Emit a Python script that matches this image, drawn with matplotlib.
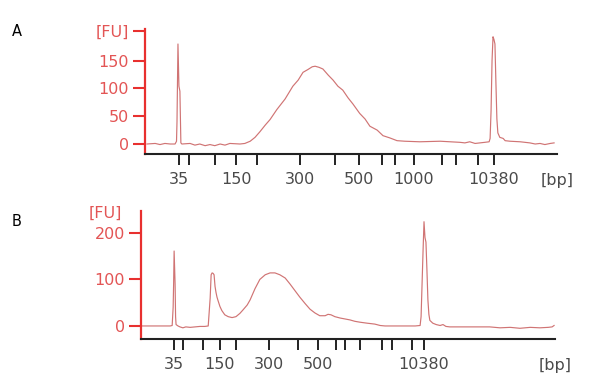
#Bioanalyzer electropherograms, panels A and B
import matplotlib
matplotlib.use('Agg')
import matplotlib.pyplot as plt

# ladder migration times (s) and the sizes labelled under them
ladder_bp = [35, 50, 100, 150, 200, 300, 400, 500, 600, 700, 1000, 2000, 3000, 7000, 10380]
ladder_t_a = [47.0, 49.1, 54.4, 58.8, 63.1, 72.0, 79.2, 84.1, 88.9, 91.6, 95.5, 101.3, 104.2, 108.7, 112.0]
ladder_t_b = [46.8, 48.6, 52.7, 56.2, 59.5, 66.3, 72.2, 76.3, 80.0, 81.9, 85.0, 89.5, 91.5, 95.6, 98.1]
shown_a = [35, 150, 300, 500, 1000, 10380]
shown_b = [35, 150, 300, 500, 10380]

# trace A: time (s), fluorescence (FU)
t_a = [40.4, 42.1, 43.1, 44.1, 45.2, 46.2, 46.5, 46.6, 46.8, 47.0, 47.2, 47.4, 47.6,
       49.3, 50.3, 51.3, 52.4, 53.4, 54.4, 55.5, 56.5, 57.5, 59.6, 60.6, 61.7, 62.7,
       63.7, 64.8, 65.8, 67.2, 68.9, 70.5, 71.6, 72.6, 73.6, 74.5, 75.1, 75.9, 76.7,
       77.8, 78.8, 79.8, 80.8, 81.9, 82.9, 84.3, 85.4, 86.4, 87.9, 89.1, 90.5, 92.0,
       93.6, 96.7, 100.9, 105.0, 106.0, 107.0, 108.1, 109.1, 110.1, 111.0, 111.2, 111.4,
       111.6, 111.8, 112.0, 112.2, 112.4, 112.6, 112.8, 113.2, 113.9, 114.3, 115.3,
       117.4, 119.4, 120.5, 121.5, 122.5, 123.6, 124.4]
fu_a = [0, 1, -1, 1, 0, 0, 5, 40, 180, 104, 95, 2, 0,
        1, -2, 0, -3, -1, -3, 0, -2, 1, 0, 1, 5, 12,
        22, 34, 44, 62, 81, 104, 115, 129, 134, 139, 140, 138, 135,
        124, 115, 104, 97, 83, 72, 55, 45, 32, 25, 15, 11, 6,
        5, 4, 5, 3, 2, 4, 1, 2, 3, 4, 10, 60,
        150, 193, 188, 180, 110, 45, 20, 12, 10, 6, 5,
        4, 2, 0, 1, -1, 1, 2]

# trace B
t_b = [40.2, 41.8, 43.9, 46.0, 46.4, 46.6, 46.7, 46.8, 47.0, 47.1, 47.2, 47.6, 48.0,
       48.6, 49.2, 50.1, 51.1, 52.1, 53.1, 53.8, 54.0, 54.2, 54.4, 54.6, 54.8, 55.0,
       55.2, 55.4, 55.6, 55.8, 56.2, 56.6, 57.2, 57.9, 58.7, 59.5, 60.3, 60.9, 61.8,
       62.4, 63.4, 64.4, 65.5, 66.5, 67.5, 68.5, 69.6, 70.6, 71.6, 72.6, 73.7, 74.7,
       75.7, 76.7, 77.8, 78.4, 79.0, 79.8, 80.9, 81.9, 82.9, 83.9, 85.0, 86.4, 88.0,
       89.1, 90.1, 93.2, 96.3, 97.3, 97.5, 97.7, 97.9, 98.1, 98.3, 98.5, 98.7, 98.9,
       99.1, 99.3, 99.9, 100.6, 101.4, 102.0, 102.6, 103.4, 107.5, 111.6, 113.7, 115.8,
       117.8, 119.9, 121.9, 123.6, 124.4, 124.8]
fu_b = [0, 0, 0, 0, 1, 40, 92, 161, 90, 20, 3, 0, -2,
        -4, -2, -3, -2, -1, -1, 0, 30, 60, 110, 114, 113, 110,
        85, 72, 62, 55, 42, 33, 24, 20, 18, 20, 27, 34, 45,
        56, 80, 100, 110, 114, 114, 110, 103, 90, 76, 62, 48, 36,
        28, 22, 22, 25, 24, 20, 17, 15, 13, 10, 8, 6, 4,
        1, 0, 0, 0, 1, 20, 90, 160, 224, 190, 180, 120, 56,
        25, 12, 6, 3, 1, 3, -1, -2, -2, -2, -4, -3,
        -5, -3, -4, -3, -2, 1]

trace_col = '#d07474'
red = '#e8302f'
lab_red = '#e35555'
grey = '#4a4a4a'

fig = plt.figure(figsize=(6.08, 3.83), dpi=100)
axA = fig.add_axes([0.2385, 0.5979, 0.6776, 0.3264])
axB = fig.add_axes([0.2319, 0.1149, 0.681, 0.3342])

for ax, t, fu, lt, shown, bp_y in [(axA, t_a, fu_a, ladder_t_a, shown_a, -0.215),
                                   (axB, t_b, fu_b, ladder_t_b, shown_b, -0.205)]:
    ax.plot(t, fu, color=trace_col, lw=0.85)
    ax.set_xlim(40, 125)
    ax.spines['top'].set_visible(False)
    ax.spines['right'].set_visible(False)
    ax.spines['left'].set_color(red)
    ax.spines['left'].set_linewidth(1.6)
    ax.spines['bottom'].set_color('#222222')
    ax.spines['bottom'].set_linewidth(1.5)
    ax.set_xticks(lt)
    ax.set_xticklabels([str(b) if b in shown else '' for b in ladder_bp])
    ax.tick_params(axis='x', length=8, width=1.4, color='#222222', pad=5,
                   labelsize=11.5, labelcolor=grey)
    ax.tick_params(axis='y', length=8.5, width=1.5, color=red, pad=3,
                   labelsize=11.5, labelcolor=lab_red)
    ax.text(1.0, bp_y, '[bp]', transform=ax.transAxes,
            ha='center', va='center', fontsize=11.5, color=grey)

axA.set_ylim(-18, 207)
axA.set_yticks([0, 50, 100, 150, 204])
axA.set_yticklabels(['0', '50', '100', '150', '[FU]'])

axB.set_ylim(-28, 247)
axB.set_yticks([0, 100, 200])
axB.text(-0.085, 0.985, '[FU]', transform=axB.transAxes, ha='center', va='center',
         fontsize=11.5, color=lab_red)

fig.text(12 / 608, 1 - 32 / 383, 'A', fontsize=10.5, va='center', ha='left')
fig.text(12 / 608, 1 - 222 / 383, 'B', fontsize=10.5, va='center', ha='left')

fig.savefig('out.png', dpi=100)
